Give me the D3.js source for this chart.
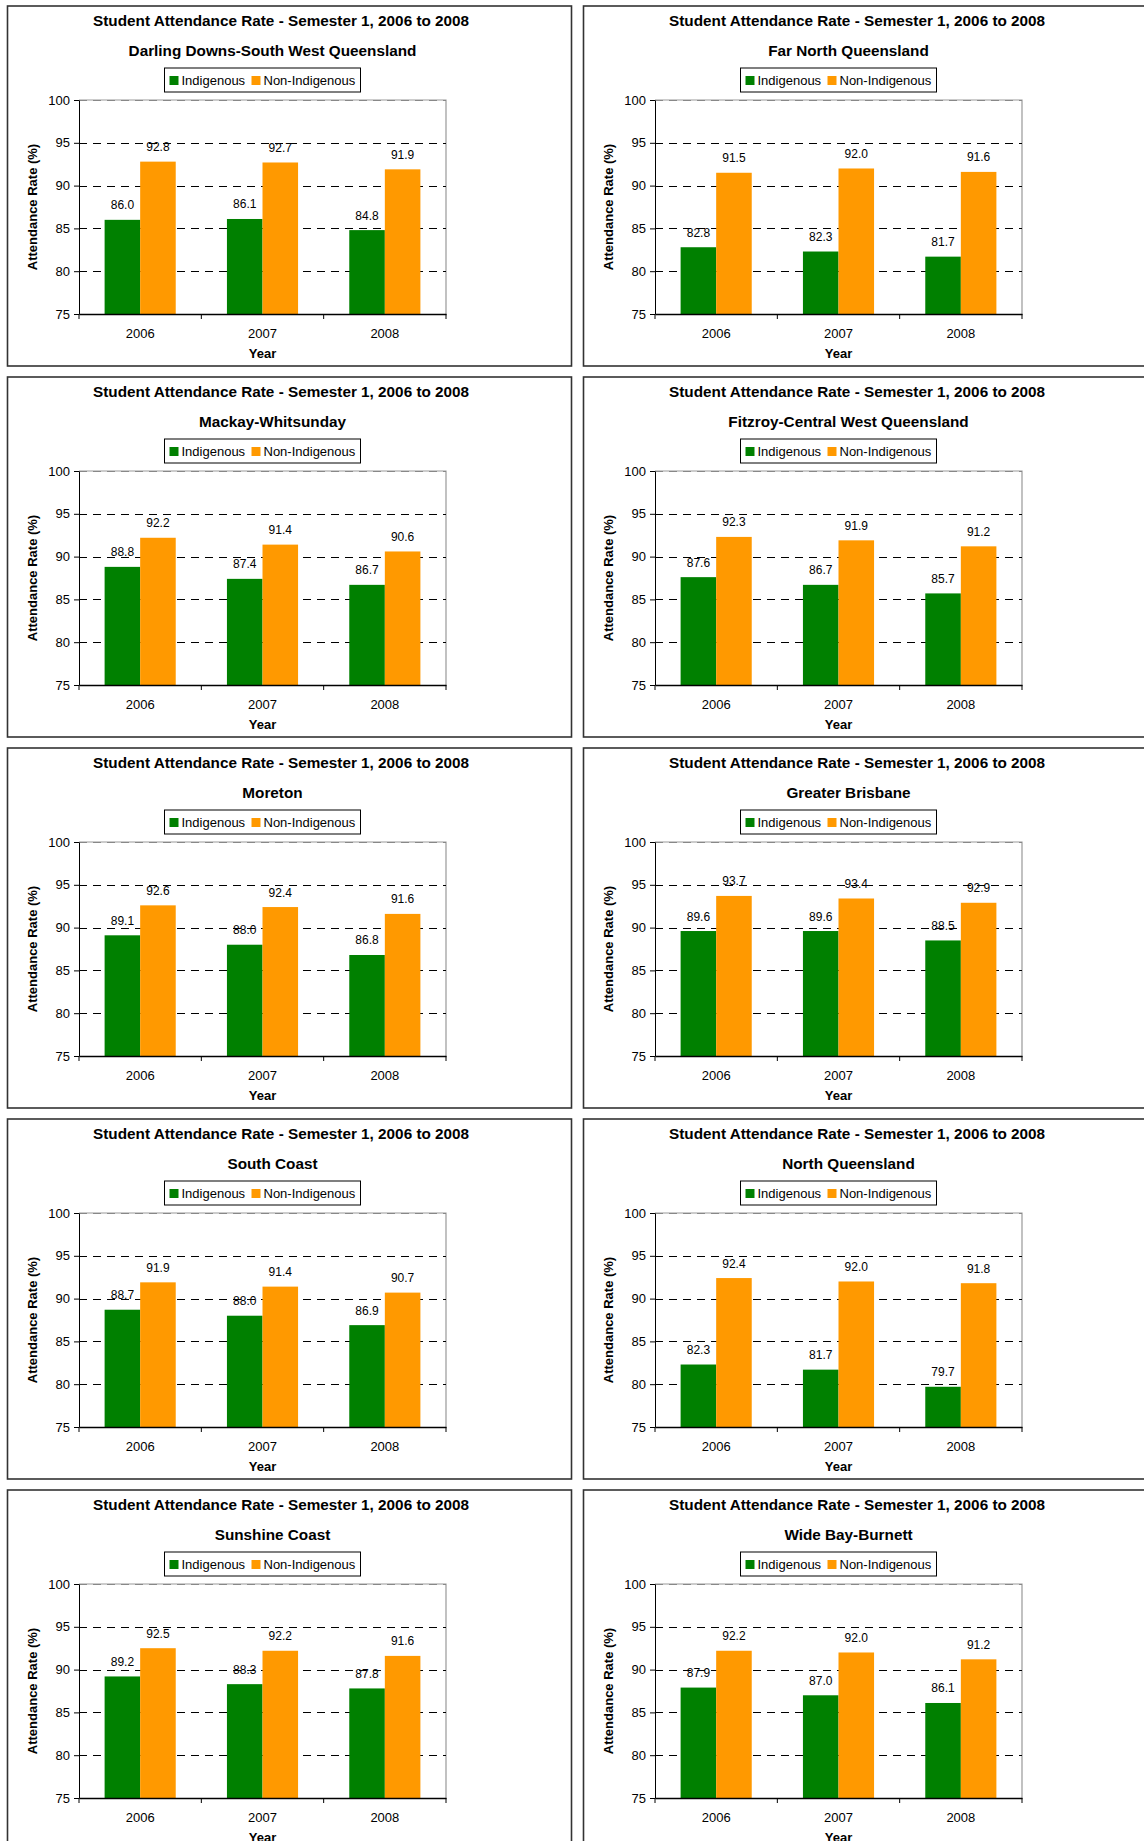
<!DOCTYPE html>
<html><head><meta charset="utf-8">
<script src="https://cdn.jsdelivr.net/npm/d3@7"></script>
<style>
body{margin:0;background:#fff;overflow:hidden}
svg{display:block}
text{font-family:"Liberation Sans",Arial,sans-serif;fill:#000}
</style>
</head><body>
<svg id="c" width="1144" height="1841"></svg>
<script>
// ---- data ----
const chartTitle = "Student Attendance Rate - Semester 1, 2006 to 2008";
const regions = [
  "Darling Downs-South West Queensland", "Far North Queensland",
  "Mackay-Whitsunday", "Fitzroy-Central West Queensland",
  "Moreton", "Greater Brisbane",
  "South Coast", "North Queensland",
  "Sunshine Coast", "Wide Bay-Burnett"
];
const years = ["2006", "2007", "2008"];
const seriesNames = ["Indigenous", "Non-Indigenous"];
const indigenous = [
  [86.0, 86.1, 84.8], [82.8, 82.3, 81.7],
  [88.8, 87.4, 86.7], [87.6, 86.7, 85.7],
  [89.1, 88.0, 86.8], [89.6, 89.6, 88.5],
  [88.7, 88.0, 86.9], [82.3, 81.7, 79.7],
  [89.2, 88.3, 87.8], [87.9, 87.0, 86.1]
];
const nonIndigenous = [
  [92.8, 92.7, 91.9], [91.5, 92.0, 91.6],
  [92.2, 91.4, 90.6], [92.3, 91.9, 91.2],
  [92.6, 92.4, 91.6], [93.7, 93.4, 92.9],
  [91.9, 91.4, 90.7], [92.4, 92.0, 91.8],
  [92.5, 92.2, 91.6], [92.2, 92.0, 91.2]
];
const yTicks = [75, 80, 85, 90, 95, 100];
const yDomain = [75, 100];
const xAxisTitle = "Year";
const yAxisTitle = "Attendance Rate (%)";
const seriesColors = ["#008000", "#FF9900"];

// ---- layout ----
const svg = d3.select("#c");
const panelW = 564, panelH = 360, rowStep = 371;
const plot = {left: 71.5, top: 94, width: 367, height: 214};

const y = d3.scaleLinear().domain(yDomain).range([plot.height, 0]);
const x0 = d3.scaleBand().domain(years).range([0, plot.width]).padding(0);
const x1 = d3.scaleBand().domain(seriesNames).range([0, x0.bandwidth()]).paddingInner(0).paddingOuter(0.72);

regions.forEach((name, idx) => {
  const col = idx % 2, row = Math.floor(idx / 2);
  const tx = col === 0 ? 7.5 : 583.5;
  const ty = 6 + rowStep * row;
  const g = svg.append("g").attr("transform", `translate(${tx},${ty})`);

  g.append("rect").attr("x", 0).attr("y", 0).attr("width", panelW).attr("height", panelH)
    .attr("fill", "#fff").attr("stroke", "#333").attr("stroke-width", 1.6);

  g.append("text").attr("x", 273.6).attr("y", 19.7).attr("text-anchor", "middle")
    .attr("font-size", 15.3).attr("font-weight", "bold").text(chartTitle);
  g.append("text").attr("x", 265).attr("y", 49.7).attr("text-anchor", "middle")
    .attr("font-size", 15.3).attr("font-weight", "bold").text(name);

  // legend
  const lg = g.append("g").attr("transform", "translate(157,62)");
  lg.append("rect").attr("width", 196).attr("height", 24).attr("fill", "#fff")
    .attr("stroke", "#000").attr("stroke-width", 1);
  const legX = [5, 87];
  seriesNames.forEach((s, i) => {
    lg.append("rect").attr("x", legX[i]).attr("y", 8).attr("width", 9).attr("height", 9)
      .attr("fill", seriesColors[i]);
    lg.append("text").attr("x", legX[i] + 12).attr("y", 16.5).attr("font-size", 13).text(s);
  });

  const p = g.append("g").attr("transform", `translate(${plot.left},${plot.top})`);

  // plot frame (top/right grey)
  p.append("path").attr("d", `M0,0H${plot.width}V${plot.height}`)
    .attr("fill", "none").attr("stroke", "#999").attr("stroke-width", 1.2);

  // gridlines
  p.selectAll(".grid").data(yTicks.filter(t => t > yDomain[0])).enter().append("line")
    .attr("x1", 0).attr("x2", plot.width)
    .attr("y1", d => Math.round(y(d)) + 0.5).attr("y2", d => Math.round(y(d)) + 0.5)
    .attr("stroke", d => d === 100 ? "#888" : "#000").attr("stroke-width", 1)
    .attr("stroke-dasharray", "8,6");

  // bars
  years.forEach((yr, i) => {
    const vals = [indigenous[idx][i], nonIndigenous[idx][i]];
    vals.forEach((v, s) => {
      const bx = x0(yr) + x1(seriesNames[s]);
      p.append("rect").attr("x", bx).attr("y", y(v))
        .attr("width", x1.bandwidth()).attr("height", plot.height - y(v))
        .attr("fill", seriesColors[s]);
      p.append("text").attr("x", bx + x1.bandwidth() / 2).attr("y", y(v) - 10.5)
        .attr("text-anchor", "middle").attr("font-size", 12).attr("fill", "#111")
        .text(v.toFixed(1));
    });
  });

  // y axis
  const ya = p.append("g").call(d3.axisLeft(y).tickValues(yTicks).tickSize(5).tickSizeOuter(0).tickPadding(4));
  ya.selectAll("text").attr("font-size", 13).attr("font-family", null);
  ya.select(".domain").attr("stroke", "#000");
  ya.selectAll(".tick line").attr("stroke", "#000");

  // x axis
  const xa = p.append("g").attr("transform", `translate(0,${plot.height})`)
    .call(d3.axisBottom(x0).tickSize(0).tickSizeOuter(0).tickPadding(15));
  xa.selectAll("text").attr("font-size", 13).attr("font-family", null);
  xa.select(".domain").attr("stroke", "#000").attr("stroke-width", 1.3);
  const bounds = years.map(yr => x0(yr)).concat([x0(years[years.length - 1]) + x0.bandwidth()]);
  xa.selectAll(".bt").data(bounds).enter().append("line")
    .attr("x1", d => d).attr("x2", d => d).attr("y1", 0).attr("y2", 5)
    .attr("stroke", "#000").attr("stroke-width", 1);

  // axis titles
  p.append("text").attr("x", plot.width / 2).attr("y", plot.height + 43.7)
    .attr("text-anchor", "middle").attr("font-size", 13).attr("font-weight", "bold").text(xAxisTitle);
  p.append("text").attr("transform", `translate(${25 - plot.left + 4.5},${plot.height / 2}) rotate(-90)`)
    .attr("text-anchor", "middle").attr("font-size", 13).attr("font-weight", "bold").text(yAxisTitle);
});
</script>
</body></html>
